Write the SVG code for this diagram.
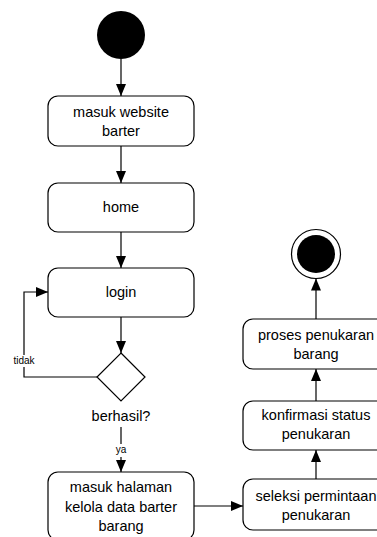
<svg xmlns="http://www.w3.org/2000/svg" width="377" height="537" viewBox="0 0 377 537">
  <defs>
    <marker id="arrow" markerUnits="userSpaceOnUse" markerWidth="12" markerHeight="12" viewBox="0 0 12 10" refX="12" refY="5" orient="auto">
      <path d="M0,0 L12,5 L0,10 Z" fill="#000"/>
    </marker>
    <style>
      .act { fill: #fff; stroke: #000; stroke-width: 1.2; }
      .lbl { font-family: "Liberation Sans", Arial, sans-serif; font-size: 14.5px; fill: #000; text-anchor: middle; }
      .small { font-family: "Liberation Sans", Arial, sans-serif; font-size: 10px; fill: #000; text-anchor: middle; }
      .edge { fill: none; stroke: #000; stroke-width: 1.2; }
      .arr { marker-end: url(#arrow); }
    </style>
  </defs>
  <rect width="377" height="537" fill="#fff"/>

  <!-- connectors -->
  <g id="connectors">
    <path class="edge arr" d="M121,59 V96"/>
    <path class="edge arr" d="M121,146 V183"/>
    <path class="edge arr" d="M121,232 V268"/>
    <path class="edge arr" d="M121,317 V353"/>
    <path class="edge arr" d="M97,377 H24 V292 H48"/>
    <rect x="10" y="355" width="28" height="12" fill="#fff"/>
    <text class="small" x="24" y="364">tidak</text>
    <path class="edge arr" d="M121,427 V472"/>
    <rect x="112" y="444" width="18" height="13" fill="#fff"/>
    <text class="small" x="121" y="453">ya</text>
    <path class="edge arr" d="M194,506 H243"/>
    <path class="edge arr" d="M316,479 V450"/>
    <path class="edge arr" d="M316,401 V369"/>
    <path class="edge arr" d="M316,319 V278.5"/>
  </g>

  <!-- start node -->
  <g id="start">
    <circle cx="121" cy="35" r="24" fill="#000"/>
  </g>

  <g id="masuk-website">
    <rect class="act" x="48" y="96" width="146" height="50" rx="10"/>
    <text class="lbl" x="121" y="117">masuk website</text>
    <text class="lbl" x="121" y="136">barter</text>
  </g>

  <g id="home">
    <rect class="act" x="48" y="183" width="146" height="49" rx="10"/>
    <text class="lbl" x="121" y="212">home</text>
  </g>

  <g id="login">
    <rect class="act" x="48" y="268" width="146" height="49" rx="10"/>
    <text class="lbl" x="121" y="297">login</text>
  </g>

  <g id="decision">
    <path class="act" d="M121,353 L145,377 L121,401 L97,377 Z"/>
    <text class="lbl" x="121" y="421">berhasil?</text>
  </g>

  <g id="kelola-data">
    <rect class="act" x="48" y="472" width="146" height="68" rx="10"/>
    <text class="lbl" x="121" y="492">masuk halaman</text>
    <text class="lbl" x="121" y="512">kelola data barter</text>
    <text class="lbl" x="121" y="531">barang</text>
  </g>

  <g id="seleksi">
    <rect class="act" x="243" y="479" width="146" height="51" rx="10"/>
    <text class="lbl" x="316" y="501">seleksi permintaan</text>
    <text class="lbl" x="316" y="520">penukaran</text>
  </g>

  <g id="konfirmasi">
    <rect class="act" x="243" y="401" width="146" height="49" rx="10"/>
    <text class="lbl" x="316" y="420">konfirmasi status</text>
    <text class="lbl" x="316" y="439">penukaran</text>
  </g>

  <g id="proses">
    <rect class="act" x="243" y="319" width="146" height="50" rx="10"/>
    <text class="lbl" x="316" y="340">proses penukaran</text>
    <text class="lbl" x="316" y="359">barang</text>
  </g>

  <!-- end node -->
  <g id="end">
    <circle cx="316" cy="254" r="24.5" fill="#fff" stroke="#000" stroke-width="1.2"/>
    <circle cx="316" cy="254" r="19" fill="#000"/>
  </g>
</svg>
